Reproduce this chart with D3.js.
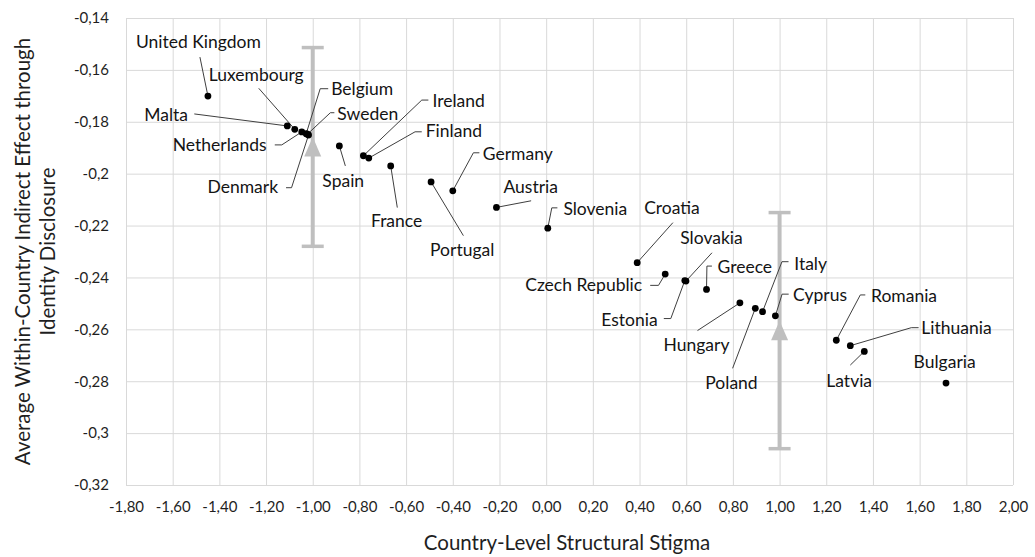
<html>
<head>
    <meta charset="utf-8">
    <style>
        body { margin: 0; background: #fff; }
        .grid line { stroke: #d9d9d9; stroke-width: 1; }
        .grid path { display: none; }
        .tick text { font-family: Lato, sans-serif; font-size: 15px; fill: #1f1f1f; }
        .lbl { font-family: Lato, sans-serif; font-size: 17.5px; fill: #141414; }
        .leader { fill: none; stroke: #3f3f3f; stroke-width: 1; }
        .title { font-family: Lato, sans-serif; font-size: 20.5px; fill: #1f1f1f; }
    </style>
    <script src="https://cdn.jsdelivr.net/npm/d3@7"></script>
</head>
<body>
<div id="chart"></div>
<script>

    // country values
    var countries = ["United Kingdom", "Malta", "Luxembourg", "Netherlands", "Belgium", "Sweden", "Denmark",
        "Spain", "Ireland", "Finland", "France", "Portugal", "Germany", "Austria", "Slovenia", "Croatia",
        "Czech Republic", "Slovakia", "Estonia", "Greece", "Hungary", "Poland", "Italy", "Cyprus",
        "Romania", "Lithuania", "Latvia", "Bulgaria"];
    var stigma = [-1.449, -1.109, -1.077, -1.047, -1.028, -1.023, -1.018,
        -0.886, -0.783, -0.760, -0.666, -0.493, -0.400, -0.213, 0.007, 0.390,
        0.510, 0.599, 0.594, 0.687, 0.830, 0.896, 0.927, 0.982,
        1.243, 1.303, 1.363, 1.713];
    var effect = [-0.1701, -0.1816, -0.1829, -0.1839, -0.1846, -0.1848, -0.1851,
        -0.1893, -0.1931, -0.1940, -0.1970, -0.2032, -0.2066, -0.2130, -0.2210, -0.2343,
        -0.2387, -0.2414, -0.2412, -0.2446, -0.2498, -0.2519, -0.2532, -0.2548,
        -0.2642, -0.2663, -0.2685, -0.2807];

    // group means (low / high stigma) with error bars
    var groupX = [-1.00, 1.00];
    var groupMean = [-0.1897, -0.2605];
    var groupErr = [0.0383, 0.0455];

    var xTicks = [-1.8, -1.6, -1.4, -1.2, -1.0, -0.8, -0.6, -0.4, -0.2, 0, 0.2, 0.4, 0.6, 0.8, 1.0, 1.2, 1.4, 1.6, 1.8, 2.0];
    var yTicks = [-0.32, -0.30, -0.28, -0.26, -0.24, -0.22, -0.20, -0.18, -0.16, -0.14];

    var xTitle = "Country-Level Structural Stigma";
    var yTitle = ["Average Within-Country Indirect Effect through", "Identity Disclosure"];

    // label placement, pixel offsets from the point: t = text start, l = leader bends
    var labelLayout = {
        "United Kingdom": {t: [-72, -48], l: [[-8, -39]]},
        "Malta": {t: [-143, -5], l: [[-93, -12]]},
        "Luxembourg": {t: [-86, -48], l: [[-36, -41]]},
        "Netherlands": {t: [-129, 19], l: [[-27, 13], [-20, 13]]},
        "Belgium": {t: [25, -39], l: [[22, -45], [14, -45]]},
        "Sweden": {t: [30, -14], l: [[27, -21.5], [23, -21.5]]},
        "Denmark": {t: [-101, 58], l: [[-22.5, 52.7], [-17, 52.7]]},
        "Spain": {t: [-17, 41], l: [[6, 20]]},
        "Ireland": {t: [69, -49], l: [[65, -55.7], [58.4, -55.7]]},
        "Finland": {t: [57, -20.7], l: [[53, -26.3], [46.3, -26.3]]},
        "France": {t: [-19.7, 61.3], l: [[6.6, 41.7]]},
        "Portugal": {t: [-1, 74], l: [[32.3, 53.7]]},
        "Germany": {t: [30, -30.7], l: [[26.6, -38], [20.6, -38]]},
        "Austria": {t: [7, -14.6], l: [[34.7, -6.6]]},
        "Slovenia": {t: [15.6, -13], l: [[9.6, -20.3], [4, -20.3]]},
        "Croatia": {t: [7, -48.4], l: [[35.7, -40]]},
        "Czech Republic": {t: [-140, 17], l: [[-15, 11.3], [-6.7, 11.3]]},
        "Slovakia": {t: [-5.7, -36.7], l: [[26, -28.3]]},
        "Estonia": {t: [-83.5, 45], l: [[-21, 38], [-14, 38]]},
        "Greece": {t: [11, -16.6], l: [[5.4, -23.3], [0.4, -23.3]]},
        "Hungary": {t: [-76.4, 47.7], l: [[-42.4, 27.7]]},
        "Poland": {t: [-50, 81], l: [[-22.7, 60]]},
        "Italy": {t: [31.7, -41.7], l: [[26, -50], [19.4, -50]]},
        "Cyprus": {t: [17.7, -15.3], l: [[13.3, -21.7], [6.7, -21.7]]},
        "Romania": {t: [34.7, -38.6], l: [[29, -45.3], [24, -45.3]]},
        "Lithuania": {t: [71, -11.7], l: [[68.3, -18], [61, -18]]},
        "Latvia": {t: [-38, 35.4], l: [[-14, 13.7]]},
        "Bulgaria": {t: [-32.4, -14.7], l: []}
    };

    var width = 1035, height = 557;
    var margin = {top: 18, right: 22, bottom: 72, left: 126};

    var svg = d3.select("#chart").append("svg")
        .attr("width", width)
        .attr("height", height);

    var x = d3.scaleLinear()
        .domain([-1.8, 2.0])
        .range([margin.left, width - margin.right]);
    var y = d3.scaleLinear()
        .domain([-0.32, -0.14])
        .range([height - margin.bottom, margin.top]);

    var loc = d3.formatLocale({decimal: ",", thousands: ".", grouping: [3], currency: ["", "€"], minus: "-"});
    var fmtX = loc.format(".2f");
    var fmtY = loc.format(".2~f");

    // gridlines + tick labels
    svg.append("g")
        .attr("class", "grid")
        .attr("transform", "translate(0," + y.range()[0] + ")")
        .call(d3.axisBottom(x).tickValues(xTicks).tickFormat(fmtX)
            .tickSize(-(y.range()[0] - y.range()[1])).tickPadding(16));

    svg.append("g")
        .attr("class", "grid")
        .attr("transform", "translate(" + x.range()[0] + ",0)")
        .call(d3.axisLeft(y).tickValues(yTicks).tickFormat(fmtY)
            .tickSize(-(x.range()[1] - x.range()[0])).tickPadding(17));

    // error bars and mean markers
    var groups = groupX.map(function (d, i) { return {x: d, m: groupMean[i], e: groupErr[i]}; });
    var eb = svg.append("g").selectAll("g").data(groups).enter().append("g");
    eb.append("line")
        .attr("x1", function (d) { return x(d.x); })
        .attr("x2", function (d) { return x(d.x); })
        .attr("y1", function (d) { return y(d.m + d.e); })
        .attr("y2", function (d) { return y(d.m - d.e); })
        .attr("stroke", "#bfbfbf").attr("stroke-width", 4);
    [1, -1].forEach(function (s) {
        eb.append("line")
            .attr("x1", function (d) { return x(d.x) - 11; })
            .attr("x2", function (d) { return x(d.x) + 11; })
            .attr("y1", function (d) { return y(d.m + s * d.e); })
            .attr("y2", function (d) { return y(d.m + s * d.e); })
            .attr("stroke", "#bfbfbf").attr("stroke-width", 3.5);
    });
    eb.append("path")
        .attr("d", function (d) {
            var cx = x(d.x), cy = y(d.m);
            return "M" + cx + "," + (cy - 10) + "L" + (cx + 8.5) + "," + (cy + 9.5) + "L" + (cx - 8.5) + "," + (cy + 9.5) + "Z";
        })
        .attr("fill", "#bfbfbf");

    // leader lines
    var pts = countries.map(function (c, i) { return {name: c, x: stigma[i], y: effect[i]}; });
    svg.append("g").selectAll("path").data(pts).enter().append("path")
        .attr("class", "leader")
        .attr("d", function (d) {
            var lay = labelLayout[d.name], px = x(d.x), py = y(d.y);
            if (!lay.l.length) return null;
            var pp = lay.l.map(function (o) { return [px + o[0], py + o[1]]; });
            pp.push([px, py]);
            return d3.line()(pp);
        });

    // points
    svg.append("g").selectAll("circle").data(pts).enter().append("circle")
        .attr("cx", function (d) { return x(d.x); })
        .attr("cy", function (d) { return y(d.y); })
        .attr("r", 3.4)
        .attr("fill", "#000");

    // labels
    svg.append("g").selectAll("text").data(pts).enter().append("text")
        .attr("class", "lbl")
        .attr("x", function (d) { return x(d.x) + labelLayout[d.name].t[0]; })
        .attr("y", function (d) { return y(d.y) + labelLayout[d.name].t[1]; })
        .text(function (d) { return d.name; });

    // axis titles
    svg.append("text")
        .attr("class", "title")
        .attr("text-anchor", "middle")
        .attr("x", 567)
        .attr("y", 550)
        .text(xTitle);

    var yt = svg.append("text")
        .attr("class", "title")
        .attr("text-anchor", "middle")
        .attr("transform", "translate(0," + ((y.range()[0] + y.range()[1]) / 2) + ") rotate(-90)");
    yt.selectAll("tspan").data(yTitle).enter().append("tspan")
        .attr("x", 0)
        .attr("y", function (d, i) { return 30 + i * 25; })
        .text(function (d) { return d; });

</script>
</body>
</html>
